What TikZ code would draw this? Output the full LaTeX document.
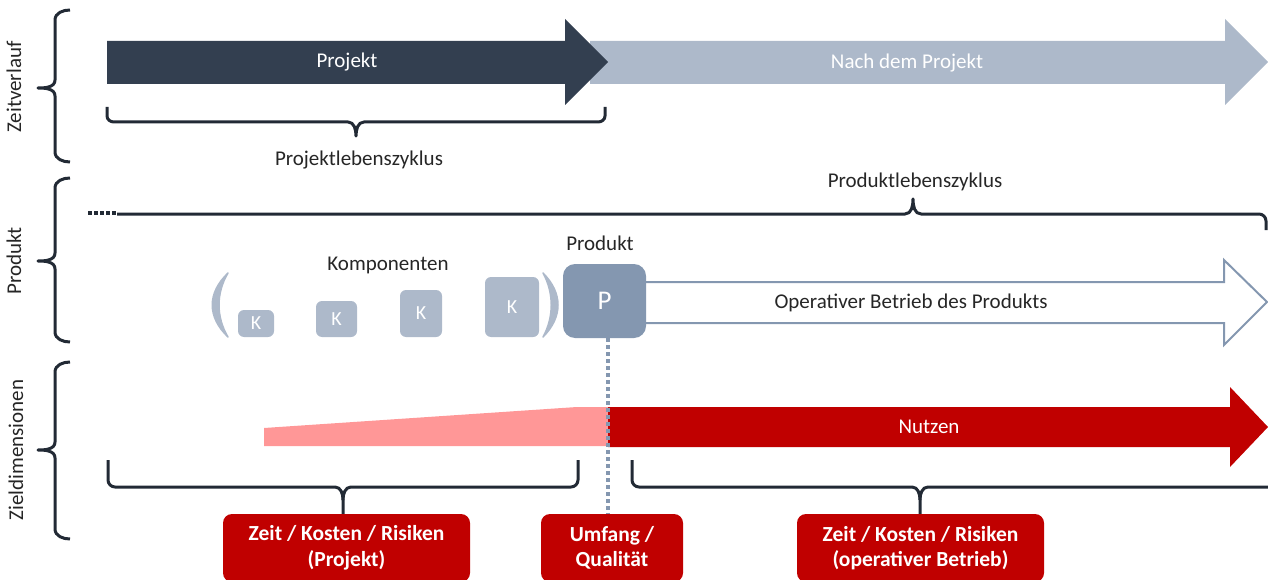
\documentclass[tikz,border=0pt]{standalone}
\usepackage{fontspec}
\setmainfont{Carlito}
\definecolor{navy}{HTML}{333F50}
\definecolor{slate}{HTML}{ADB9CA}
\definecolor{steel}{HTML}{8497B0}
\definecolor{brick}{HTML}{C00000}
\definecolor{rose}{HTML}{FF9797}
\definecolor{ink}{HTML}{222A35}
\definecolor{txt}{HTML}{262626}
\begin{document}
\begin{tikzpicture}[x=1pt,y=-1pt,
  lbl/.style={font=\fontsize{21}{25}\selectfont, text=txt, inner sep=0pt},
  onbar/.style={lbl, text=white},
  bracket/.style={draw=ink, line width=3pt, line join=round},
  comp/.style={fill=slate, rounded corners=6pt, text=white, inner sep=0pt,
    font=\fontsize{20}{22}\selectfont},
  prod/.style={fill=steel, rounded corners=12pt, text=white, inner sep=0pt,
    font=\fontsize{27}{30}\selectfont},
  goal/.style={fill=brick, rounded corners=9pt, text=white, align=center,
    inner sep=0pt, minimum height=68pt,
    font=\bfseries\fontsize{21.5}{25.5}\selectfont},
  paren/.style={fill=slate, draw=slate, line width=1.5pt, line join=round},
  marker/.style={draw=steel, line width=3.5pt, dash pattern=on 3.5pt off 3.5pt}
]
\useasboundingbox (0,0) rectangle (1268,580);

% ---- time line: project and afterwards ----
\fill[slate] (590,41) -- (1225,41) -- (1225,19) -- (1268,62) -- (1225,105)
  -- (1225,84) -- (590,84) -- cycle;
\fill[navy] (107,41) -- (565,41) -- (565,19) -- (608,62) -- (565,105)
  -- (565,84) -- (107,84) -- cycle;
\node[onbar] (proj) at (347,62) {Projekt};
\node[onbar] (after) at (907,63) {Nach dem Projekt};

% project life cycle bracket
\draw[bracket] (107,107) -- (107,116) to[out=-90,in=180] (114,122) -- (348,122)
  to[out=0,in=90] (356,136) to[out=90,in=180] (364,122) -- (598,122)
  to[out=0,in=-90] (605,116) -- (605,107);
\node[lbl] (plz) at (359,160) {Projektlebenszyklus};

% ---- product ----
\draw[ink, line width=3.5pt, dash pattern=on 3.5pt off 2.5pt] (88,213) -- (117,213);
\draw[bracket] (117,214) -- (905,214) to[out=0,in=-90] (913,199)
  to[out=-90,in=180] (921,214) -- (1259,214) to[out=0,in=90] (1266,221) -- (1266,230);
\node[lbl] (prlz) at (915,182) {Produktlebenszyklus};

% operation arrow (outline)
\draw[steel, line width=2pt, fill=white, line join=miter]
  (640,282) -- (1224,282) -- (1224,260) -- (1267,302) -- (1224,345)
  -- (1224,323) -- (640,323);
\node[lbl] (op) at (911,303) {Operativer Betrieb des Produkts};

% components in parentheses
\fill[paren] (228,273) .. controls (207,293) and (207,317) .. (228,337)
  .. controls (216,317) and (216,293) .. (228,273) -- cycle;
\fill[paren] (543,273) .. controls (563,293) and (563,317) .. (543,337)
  .. controls (554,317) and (554,293) .. (543,273) -- cycle;
\node[comp, minimum width=36pt, minimum height=27pt] (k1) at (256,323.5) {K};
\node[comp, minimum width=41pt, minimum height=36pt] (k2) at (336.5,319) {K};
\node[comp, minimum width=42pt, minimum height=47pt] (k3) at (421,313.5) {K};
\node[comp, minimum width=54pt, minimum height=60pt] (k4) at (512,307) {K};
\node[lbl] (komp) at (388,265) {Komponenten};

\node[prod, minimum width=83pt, minimum height=74pt] (p) at (604.5,301) {P};
\node[lbl] (plabel) at (600,243) {Produkt};

% ---- target dimensions ----
\fill[rose] (264,428) -- (577,407) -- (608,407) -- (608,446) -- (264,446) -- cycle;
\fill[brick] (608,407) -- (1230,407) -- (1230,387) -- (1268,427) -- (1230,467)
  -- (1230,447) -- (608,447) -- cycle;
\node[onbar] (nutzen) at (929,427) {Nutzen};

\coordinate (mend) at (608,516);
\draw[marker] (p.south -| mend) -- (mend);

\node[goal, minimum width=247pt] (g1) at (346.5,548) {Zeit / Kosten / Risiken\\(Projekt)};
\node[goal, minimum width=142pt] (g2) at (612,548) {Umfang /\\Qualität};
\node[goal, minimum width=247pt] (g3) at (920.5,548) {Zeit / Kosten / Risiken\\(operativer Betrieb)};

\draw[bracket] (108,460) -- (108,480) to[out=-90,in=180] (115,487) -- (335,487)
  to[out=0,in=90] (343,500) -- (g1.north -| 343,0) ;
\draw[bracket] (343,500) to[out=90,in=180] (351,487) -- (571,487)
  to[out=0,in=-90] (578,480) -- (578,460);
\draw[bracket] (632,460) -- (632,480) to[out=-90,in=180] (639,487) -- (912,487)
  to[out=0,in=90] (920,500) -- (g3.north -| 920,0);
\draw[bracket] (920,500) to[out=90,in=180] (928,487) -- (1268,487);

% ---- side brackets ----
\draw[bracket] (70,10) to[out=180,in=90] (55,20) -- (55,80) to[out=-90,in=0] (38,88)
  to[out=0,in=90] (55,96) -- (55,152) to[out=-90,in=180] (70,162);
\draw[bracket] (70,178) to[out=180,in=90] (55,188) -- (55,253) to[out=-90,in=0] (38,261)
  to[out=0,in=90] (55,269) -- (55,332) to[out=-90,in=180] (70,342);
\draw[bracket] (70,362) to[out=180,in=90] (55,372) -- (55,442) to[out=-90,in=0] (38,450)
  to[out=0,in=90] (55,458) -- (55,529) to[out=-90,in=180] (70,539);
\node[lbl, rotate=90] (s1) at (14,87) {Zeitverlauf};
\node[lbl, rotate=90] (s2) at (14,261) {Produkt};
\node[lbl, rotate=90] (s3) at (16,450) {Zieldimensionen};
\end{tikzpicture}
\end{document}
